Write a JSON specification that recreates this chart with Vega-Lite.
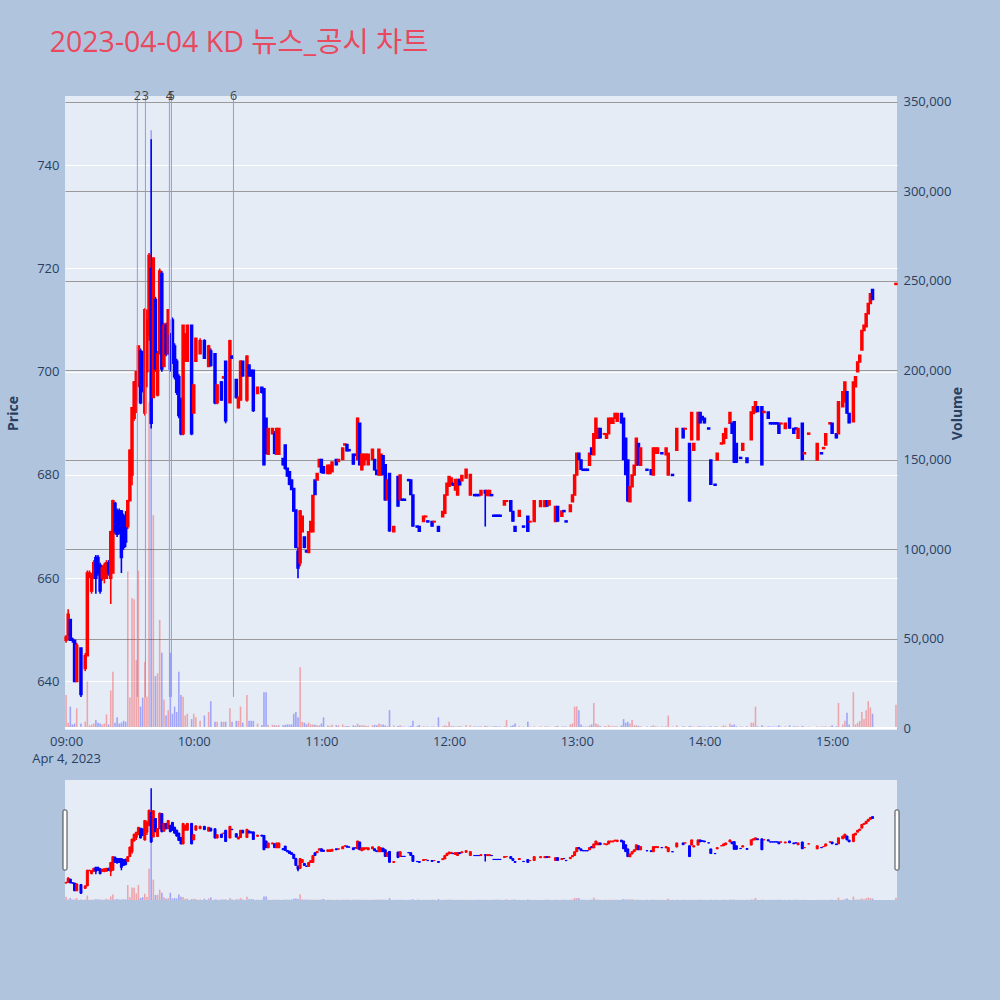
{
"$schema": "https://vega.github.io/schema/vega-lite/v6.json",
"background": "#B0C4DE",
"padding": {"left": 6, "top": 28, "right": 38, "bottom": 100},
"spacing": 15,
"title": {"text": "2023-04-04 KD 뉴스_공시 차트", "anchor": "start", "font": "Open Sans, Noto Sans CJK KR", "fontSize": 28.5, "fontWeight": "normal", "color": "#E8495E", "offset": 33, "dx": 43},
"config": {"view": {"fill": "#E5ECF6", "stroke": null}, "font": "Open Sans", "scale": {"continuousPadding": 0}, "axis": {"labelFont": "Open Sans", "titleFont": "Open Sans", "labelColor": "#2a3f5f", "titleColor": "#2a3f5f", "labelFontSize": 13}},
"datasets": {
"candles": [
{"t":"2023-04-04 09:00","o":648,"h":649,"l":647.5,"c":648.6,"v":18500},
{"t":"2023-04-04 09:01","o":649,"h":654,"l":648,"c":653,"v":3000},
{"t":"2023-04-04 09:02","o":652,"h":652,"l":648,"c":648,"v":12000},
{"t":"2023-04-04 09:03","o":648.2,"h":648.5,"l":647.5,"c":648,"v":2000},
{"t":"2023-04-04 09:04","o":648,"h":648,"l":640,"c":640,"v":2500},
{"t":"2023-04-04 09:05","o":640,"h":647.5,"l":640,"c":647,"v":11000},
{"t":"2023-04-04 09:07","o":646.5,"h":646.5,"l":637,"c":637.5,"v":2600},
{"t":"2023-04-04 09:09","o":642.5,"h":645.5,"l":642,"c":645,"v":3500},
{"t":"2023-04-04 09:10","o":645,"h":661.5,"l":645,"c":661,"v":26000},
{"t":"2023-04-04 09:11","o":660.8,"h":661.5,"l":660,"c":661,"v":1500},
{"t":"2023-04-04 09:12","o":657.5,"h":661,"l":657,"c":660.5,"v":2000},
{"t":"2023-04-04 09:13","o":660,"h":663.5,"l":660,"c":663,"v":2500},
{"t":"2023-04-04 09:14","o":664,"h":664.5,"l":657,"c":660,"v":4500},
{"t":"2023-04-04 09:15","o":664,"h":664.5,"l":660.5,"c":661,"v":3000},
{"t":"2023-04-04 09:16","o":662.5,"h":663,"l":657,"c":657.5,"v":2500},
{"t":"2023-04-04 09:17","o":660,"h":662.5,"l":659.5,"c":662,"v":2000},
{"t":"2023-04-04 09:18","o":660,"h":663,"l":659,"c":662.5,"v":2500},
{"t":"2023-04-04 09:19","o":660,"h":663.5,"l":660,"c":663,"v":7600},
{"t":"2023-04-04 09:20","o":663,"h":663.5,"l":660.5,"c":661,"v":2000},
{"t":"2023-04-04 09:21","o":660,"h":669.2,"l":655,"c":669,"v":21000},
{"t":"2023-04-04 09:22","o":661,"h":675.2,"l":661,"c":675,"v":31500},
{"t":"2023-04-04 09:23","o":674.5,"h":674.8,"l":668.5,"c":669,"v":3000},
{"t":"2023-04-04 09:24","o":673,"h":673.5,"l":668,"c":668.5,"v":6000},
{"t":"2023-04-04 09:25","o":673,"h":673.5,"l":668.5,"c":669,"v":2500},
{"t":"2023-04-04 09:26","o":673,"h":673.2,"l":661,"c":664,"v":3000},
{"t":"2023-04-04 09:27","o":672,"h":672.5,"l":665.5,"c":666,"v":4000},
{"t":"2023-04-04 09:28","o":672,"h":673,"l":666,"c":667,"v":3500},
{"t":"2023-04-04 09:29","o":670,"h":675.2,"l":669.5,"c":675,"v":87500},
{"t":"2023-04-04 09:30","o":675,"h":685,"l":675,"c":684.8,"v":17000},
{"t":"2023-04-04 09:31","o":680,"h":693,"l":678,"c":693,"v":72600},
{"t":"2023-04-04 09:32","o":691,"h":698.2,"l":690.5,"c":698,"v":72000},
{"t":"2023-04-04 09:33","o":694.5,"h":700,"l":692,"c":700,"v":38000},
{"t":"2023-04-04 09:34","o":697.5,"h":705,"l":697,"c":705,"v":88000},
{"t":"2023-04-04 09:35","o":704,"h":704.5,"l":693.7,"c":694,"v":12000},
{"t":"2023-04-04 09:36","o":703,"h":704,"l":696,"c":697,"v":17000},
{"t":"2023-04-04 09:37","o":692,"h":712.3,"l":691.5,"c":712,"v":37000},
{"t":"2023-04-04 09:38","o":700,"h":712,"l":697,"c":710,"v":17500},
{"t":"2023-04-04 09:39","o":707,"h":723,"l":706,"c":722.5,"v":182000},
{"t":"2023-04-04 09:40","o":720,"h":745,"l":689,"c":690,"v":334000},
{"t":"2023-04-04 09:41","o":695,"h":722,"l":695,"c":722,"v":119000},
{"t":"2023-04-04 09:42","o":714,"h":714.5,"l":700,"c":700.5,"v":29000},
{"t":"2023-04-04 09:43","o":695.5,"h":704,"l":695.2,"c":703.5,"v":30600},
{"t":"2023-04-04 09:44","o":703.5,"h":720,"l":703.4,"c":719.5,"v":60500},
{"t":"2023-04-04 09:45","o":719,"h":719.5,"l":700,"c":700.5,"v":42000},
{"t":"2023-04-04 09:46","o":701,"h":709.5,"l":701,"c":709,"v":16000},
{"t":"2023-04-04 09:47","o":709,"h":709.5,"l":703,"c":703.5,"v":7000},
{"t":"2023-04-04 09:48","o":703.5,"h":712,"l":703.4,"c":712,"v":10000},
{"t":"2023-04-04 09:49","o":707,"h":707.5,"l":700,"c":700.5,"v":42000},
{"t":"2023-04-04 09:50","o":710,"h":710.5,"l":701.5,"c":702,"v":8000},
{"t":"2023-04-04 09:51","o":705,"h":705.5,"l":698.5,"c":699,"v":12000},
{"t":"2023-04-04 09:52","o":702,"h":702.5,"l":695.5,"c":696,"v":9000},
{"t":"2023-04-04 09:53","o":699,"h":699.5,"l":691,"c":691.5,"v":31500},
{"t":"2023-04-04 09:54","o":694.5,"h":695,"l":687.7,"c":688,"v":18500},
{"t":"2023-04-04 09:55","o":688,"h":709,"l":687.7,"c":709,"v":17500},
{"t":"2023-04-04 09:56","o":702,"h":707.5,"l":702,"c":707,"v":7000},
{"t":"2023-04-04 09:57","o":702,"h":709,"l":702,"c":709,"v":8000},
{"t":"2023-04-04 09:59","o":709,"h":709,"l":687.7,"c":688,"v":5000},
{"t":"2023-04-04 10:00","o":692,"h":697.5,"l":692,"c":697.4,"v":8000},
{"t":"2023-04-04 10:01","o":702,"h":706.5,"l":702,"c":706.5,"v":6000},
{"t":"2023-04-04 10:03","o":703.5,"h":706.5,"l":703.5,"c":706,"v":4000},
{"t":"2023-04-04 10:05","o":706,"h":706.3,"l":702.5,"c":702.6,"v":7000},
{"t":"2023-04-04 10:07","o":701,"h":705.2,"l":701,"c":705,"v":9000},
{"t":"2023-04-04 10:08","o":704,"h":704.5,"l":701,"c":701.2,"v":15000},
{"t":"2023-04-04 10:10","o":703.5,"h":703.5,"l":693.7,"c":694,"v":3500},
{"t":"2023-04-04 10:11","o":694,"h":697.5,"l":693.7,"c":697.4,"v":3500},
{"t":"2023-04-04 10:13","o":698,"h":698.2,"l":694.4,"c":694.5,"v":3500},
{"t":"2023-04-04 10:14","o":698.8,"h":699,"l":698.7,"c":699,"v":3500},
{"t":"2023-04-04 10:15","o":702,"h":702,"l":690,"c":690.5,"v":3500},
{"t":"2023-04-04 10:17","o":694,"h":706.2,"l":694,"c":706,"v":11000},
{"t":"2023-04-04 10:18","o":703,"h":703.2,"l":702.5,"c":702.6,"v":3500},
{"t":"2023-04-04 10:20","o":698.5,"h":698.5,"l":694.8,"c":695,"v":4000},
{"t":"2023-04-04 10:21","o":693,"h":695.2,"l":692.9,"c":695,"v":4000},
{"t":"2023-04-04 10:22","o":694.5,"h":702.2,"l":694.5,"c":702,"v":12000},
{"t":"2023-04-04 10:23","o":702,"h":702,"l":699,"c":699.2,"v":3000},
{"t":"2023-04-04 10:25","o":694.5,"h":703.2,"l":694.2,"c":703,"v":18500},
{"t":"2023-04-04 10:26","o":701.3,"h":701.3,"l":699,"c":699.2,"v":4000},
{"t":"2023-04-04 10:27","o":700.3,"h":700.3,"l":699,"c":699.2,"v":4000},
{"t":"2023-04-04 10:28","o":700.3,"h":700.3,"l":692.2,"c":692.5,"v":4000},
{"t":"2023-04-04 10:30","o":695.8,"h":697,"l":695.8,"c":697,"v":2500},
{"t":"2023-04-04 10:32","o":697,"h":697,"l":695.8,"c":696,"v":1500},
{"t":"2023-04-04 10:33","o":696.7,"h":696.7,"l":681.9,"c":682,"v":20000},
{"t":"2023-04-04 10:34","o":691,"h":691,"l":684,"c":684.2,"v":20000},
{"t":"2023-04-04 10:35","o":684,"h":689,"l":684,"c":689,"v":1800},
{"t":"2023-04-04 10:37","o":688,"h":689,"l":688,"c":689,"v":1800},
{"t":"2023-04-04 10:38","o":688,"h":688.5,"l":684,"c":684.2,"v":1500},
{"t":"2023-04-04 10:39","o":684,"h":689,"l":684,"c":689,"v":1500},
{"t":"2023-04-04 10:40","o":684,"h":689,"l":684,"c":689,"v":1500},
{"t":"2023-04-04 10:42","o":683.2,"h":683.2,"l":681.9,"c":682,"v":1500},
{"t":"2023-04-04 10:43","o":685.8,"h":685.8,"l":681,"c":681.3,"v":1800},
{"t":"2023-04-04 10:44","o":681.3,"h":681.3,"l":679.7,"c":679.8,"v":2000},
{"t":"2023-04-04 10:45","o":680.6,"h":680.6,"l":678,"c":678.2,"v":2000},
{"t":"2023-04-04 10:46","o":679,"h":679,"l":677.1,"c":677.2,"v":2000},
{"t":"2023-04-04 10:47","o":677.4,"h":677.4,"l":672.9,"c":673,"v":8000},
{"t":"2023-04-04 10:48","o":673.2,"h":673.2,"l":665.8,"c":666,"v":9000},
{"t":"2023-04-04 10:49","o":665.2,"h":666,"l":660,"c":662,"v":6000},
{"t":"2023-04-04 10:50","o":663,"h":673.2,"l":662.3,"c":673,"v":34000},
{"t":"2023-04-04 10:51","o":669,"h":672,"l":669,"c":672,"v":3500},
{"t":"2023-04-04 10:52","o":668,"h":668,"l":665.8,"c":666,"v":3000},
{"t":"2023-04-04 10:53","o":665.3,"h":665.5,"l":665,"c":665.1,"v":2000},
{"t":"2023-04-04 10:54","o":665,"h":669,"l":664.9,"c":669,"v":3000},
{"t":"2023-04-04 10:55","o":669,"h":671,"l":669,"c":671,"v":2000},
{"t":"2023-04-04 10:56","o":669,"h":676.1,"l":669,"c":676,"v":2000},
{"t":"2023-04-04 10:57","o":679,"h":679,"l":676.1,"c":676.2,"v":1800},
{"t":"2023-04-04 10:58","o":679,"h":680.3,"l":679,"c":680.3,"v":1500},
{"t":"2023-04-04 10:59","o":681.6,"h":683,"l":681.6,"c":683,"v":1500},
{"t":"2023-04-04 11:00","o":683,"h":683,"l":680.3,"c":680.5,"v":2500},
{"t":"2023-04-04 11:01","o":681.6,"h":681.6,"l":680.3,"c":680.4,"v":6000},
{"t":"2023-04-04 11:03","o":680.3,"h":681.9,"l":680.3,"c":681.9,"v":1500},
{"t":"2023-04-04 11:04","o":680.3,"h":681.9,"l":680.3,"c":681.9,"v":1200},
{"t":"2023-04-04 11:05","o":680.6,"h":682.5,"l":680.6,"c":682.5,"v":1800},
{"t":"2023-04-04 11:07","o":683,"h":683,"l":681.9,"c":682,"v":1500},
{"t":"2023-04-04 11:08","o":682.6,"h":683,"l":682.6,"c":683,"v":1500},
{"t":"2023-04-04 11:10","o":683,"h":685.2,"l":683,"c":685.2,"v":2000},
{"t":"2023-04-04 11:11","o":685.8,"h":686,"l":685.8,"c":686,"v":1000},
{"t":"2023-04-04 11:12","o":685.9,"h":685.9,"l":684.6,"c":684.7,"v":1200},
{"t":"2023-04-04 11:13","o":684.9,"h":684.9,"l":684.7,"c":684.7,"v":1000},
{"t":"2023-04-04 11:15","o":684,"h":684,"l":682,"c":682.1,"v":1500},
{"t":"2023-04-04 11:16","o":684,"h":684,"l":683.8,"c":683.8,"v":1200},
{"t":"2023-04-04 11:17","o":683,"h":691.1,"l":682.9,"c":691,"v":2500},
{"t":"2023-04-04 11:18","o":690,"h":690,"l":681.9,"c":682,"v":1500},
{"t":"2023-04-04 11:19","o":681,"h":684,"l":680.9,"c":684,"v":1500},
{"t":"2023-04-04 11:20","o":682,"h":684,"l":681.9,"c":684,"v":1500},
{"t":"2023-04-04 11:21","o":683,"h":684,"l":683,"c":684,"v":1200},
{"t":"2023-04-04 11:22","o":682,"h":684,"l":682,"c":684,"v":1200},
{"t":"2023-04-04 11:24","o":683,"h":685,"l":683,"c":685,"v":1500},
{"t":"2023-04-04 11:25","o":683,"h":683,"l":680.9,"c":681,"v":1800},
{"t":"2023-04-04 11:26","o":680.9,"h":680.9,"l":680,"c":680.1,"v":1500},
{"t":"2023-04-04 11:27","o":680,"h":685,"l":680,"c":685,"v":2500},
{"t":"2023-04-04 11:28","o":680,"h":684,"l":680,"c":684,"v":2000},
{"t":"2023-04-04 11:29","o":683.7,"h":683.7,"l":680,"c":680.1,"v":2000},
{"t":"2023-04-04 11:30","o":682,"h":682,"l":675,"c":675.2,"v":1500},
{"t":"2023-04-04 11:31","o":675.2,"h":679,"l":675.2,"c":679,"v":1000},
{"t":"2023-04-04 11:32","o":680.3,"h":680.3,"l":669,"c":669.2,"v":10000},
{"t":"2023-04-04 11:34","o":669,"h":670,"l":669,"c":670,"v":1500},
{"t":"2023-04-04 11:36","o":679.7,"h":679.7,"l":673.9,"c":674,"v":1200},
{"t":"2023-04-04 11:37","o":675.2,"h":680,"l":675.2,"c":680,"v":1500},
{"t":"2023-04-04 11:38","o":675.3,"h":675.3,"l":675.1,"c":675.1,"v":800},
{"t":"2023-04-04 11:39","o":675.3,"h":675.3,"l":675.1,"c":675.1,"v":800},
{"t":"2023-04-04 11:41","o":679.1,"h":679.1,"l":678.9,"c":678.9,"v":800},
{"t":"2023-04-04 11:42","o":679,"h":679,"l":676.1,"c":676.2,"v":1200},
{"t":"2023-04-04 11:43","o":676.1,"h":676.1,"l":670,"c":670.1,"v":4000},
{"t":"2023-04-04 11:45","o":670.1,"h":670.1,"l":669.9,"c":669.9,"v":1000},
{"t":"2023-04-04 11:46","o":670,"h":670,"l":669,"c":669.1,"v":1700},
{"t":"2023-04-04 11:48","o":671,"h":672,"l":671,"c":672,"v":1000},
{"t":"2023-04-04 11:49","o":671.9,"h":672.1,"l":671.9,"c":672,"v":800},
{"t":"2023-04-04 11:50","o":671.1,"h":671.1,"l":670.9,"c":670.9,"v":800},
{"t":"2023-04-04 11:52","o":671,"h":671,"l":670,"c":670.1,"v":800},
{"t":"2023-04-04 11:53","o":670.9,"h":671.1,"l":670.9,"c":671,"v":800},
{"t":"2023-04-04 11:55","o":670,"h":670,"l":669,"c":669.1,"v":6000},
{"t":"2023-04-04 11:57","o":671.9,"h":672.9,"l":671.9,"c":672.9,"v":1000},
{"t":"2023-04-04 11:58","o":672.6,"h":676.1,"l":672.6,"c":676.1,"v":1500},
{"t":"2023-04-04 11:59","o":676.1,"h":678.4,"l":676.1,"c":678.4,"v":1200},
{"t":"2023-04-04 12:00","o":677.8,"h":679.7,"l":677.8,"c":679.7,"v":3500},
{"t":"2023-04-04 12:01","o":678.1,"h":679.4,"l":678.1,"c":679.4,"v":1200},
{"t":"2023-04-04 12:02","o":678.4,"h":678.4,"l":677.9,"c":678,"v":1000},
{"t":"2023-04-04 12:03","o":677.1,"h":679.1,"l":677.1,"c":679.1,"v":800},
{"t":"2023-04-04 12:04","o":676.1,"h":679.1,"l":676.1,"c":679.1,"v":1000},
{"t":"2023-04-04 12:05","o":679.1,"h":679.1,"l":678,"c":678.1,"v":1000},
{"t":"2023-04-04 12:06","o":678.9,"h":679.9,"l":678.9,"c":679.9,"v":800},
{"t":"2023-04-04 12:08","o":679.4,"h":681.1,"l":679.4,"c":681.1,"v":1500},
{"t":"2023-04-04 12:10","o":676.1,"h":680.1,"l":676.1,"c":680.1,"v":1500},
{"t":"2023-04-04 12:12","o":676.2,"h":676.2,"l":676,"c":676,"v":1000},
{"t":"2023-04-04 12:13","o":676.2,"h":676.2,"l":676,"c":676,"v":800},
{"t":"2023-04-04 12:14","o":676.2,"h":676.2,"l":676,"c":676,"v":800},
{"t":"2023-04-04 12:15","o":676.1,"h":677,"l":676.1,"c":677,"v":1000},
{"t":"2023-04-04 12:17","o":677,"h":677,"l":670,"c":676.5,"v":1200},
{"t":"2023-04-04 12:18","o":676,"h":677,"l":676,"c":677,"v":1000},
{"t":"2023-04-04 12:19","o":676,"h":677,"l":676,"c":677,"v":800},
{"t":"2023-04-04 12:20","o":676.2,"h":676.2,"l":676,"c":676,"v":800},
{"t":"2023-04-04 12:21","o":672.2,"h":672.2,"l":672,"c":672,"v":1000},
{"t":"2023-04-04 12:22","o":672.2,"h":672.2,"l":672,"c":672,"v":1000},
{"t":"2023-04-04 12:23","o":672.2,"h":672.2,"l":672,"c":672,"v":800},
{"t":"2023-04-04 12:24","o":672.2,"h":672.2,"l":672,"c":672,"v":800},
{"t":"2023-04-04 12:26","o":674.2,"h":675,"l":674.2,"c":675,"v":1000},
{"t":"2023-04-04 12:27","o":674.9,"h":675.1,"l":674.9,"c":675,"v":4500},
{"t":"2023-04-04 12:29","o":675,"h":675,"l":672.9,"c":673,"v":1200},
{"t":"2023-04-04 12:30","o":672.9,"h":672.9,"l":671,"c":671.1,"v":1500},
{"t":"2023-04-04 12:31","o":670,"h":670,"l":669,"c":669.1,"v":2500},
{"t":"2023-04-04 12:33","o":672,"h":673.1,"l":672,"c":673.1,"v":1000},
{"t":"2023-04-04 12:35","o":670.1,"h":670.1,"l":669.9,"c":669.9,"v":800},
{"t":"2023-04-04 12:37","o":672,"h":672,"l":669,"c":669.1,"v":3500},
{"t":"2023-04-04 12:38","o":670.9,"h":671.1,"l":670.9,"c":671,"v":800},
{"t":"2023-04-04 12:40","o":671,"h":675,"l":671,"c":675,"v":1000},
{"t":"2023-04-04 12:43","o":673.9,"h":675,"l":673.9,"c":675,"v":1000},
{"t":"2023-04-04 12:45","o":673.9,"h":675,"l":673.9,"c":675,"v":800},
{"t":"2023-04-04 12:46","o":675,"h":675,"l":673.9,"c":674,"v":800},
{"t":"2023-04-04 12:47","o":674.2,"h":675,"l":674.2,"c":675,"v":800},
{"t":"2023-04-04 12:50","o":671,"h":673.9,"l":671,"c":673.9,"v":1000},
{"t":"2023-04-04 12:51","o":673.9,"h":673.9,"l":671,"c":671.1,"v":1200},
{"t":"2023-04-04 12:53","o":672,"h":673,"l":672,"c":673,"v":800},
{"t":"2023-04-04 12:54","o":673.1,"h":673.1,"l":672.9,"c":672.9,"v":800},
{"t":"2023-04-04 12:55","o":671.1,"h":671.1,"l":670.9,"c":670.9,"v":800},
{"t":"2023-04-04 12:57","o":672.9,"h":674.2,"l":672.9,"c":674.2,"v":2000},
{"t":"2023-04-04 12:58","o":674.8,"h":676.1,"l":674.8,"c":676.1,"v":2500},
{"t":"2023-04-04 12:59","o":676.1,"h":680,"l":676.1,"c":680,"v":12000},
{"t":"2023-04-04 13:00","o":680,"h":684.2,"l":680,"c":684.2,"v":12000},
{"t":"2023-04-04 13:01","o":684.2,"h":684.2,"l":682.9,"c":683,"v":10000},
{"t":"2023-04-04 13:02","o":682.9,"h":682.9,"l":681,"c":681.1,"v":2000},
{"t":"2023-04-04 13:03","o":681.1,"h":681.1,"l":680.9,"c":680.9,"v":800},
{"t":"2023-04-04 13:04","o":681.1,"h":681.1,"l":680.9,"c":680.9,"v":800},
{"t":"2023-04-04 13:05","o":681.1,"h":681.1,"l":680.9,"c":680.9,"v":800},
{"t":"2023-04-04 13:06","o":681.9,"h":684.2,"l":681.9,"c":684.2,"v":1500},
{"t":"2023-04-04 13:07","o":685.2,"h":685.2,"l":683.9,"c":684,"v":2000},
{"t":"2023-04-04 13:08","o":683.9,"h":688,"l":683.9,"c":688,"v":14000},
{"t":"2023-04-04 13:09","o":687.1,"h":691,"l":687.1,"c":691,"v":2500},
{"t":"2023-04-04 13:10","o":687.1,"h":689,"l":687.1,"c":689,"v":2000},
{"t":"2023-04-04 13:11","o":689,"h":689,"l":687.1,"c":687.2,"v":1200},
{"t":"2023-04-04 13:13","o":687.9,"h":688.1,"l":687.9,"c":688,"v":1000},
{"t":"2023-04-04 13:14","o":687.1,"h":688,"l":687.1,"c":688,"v":1000},
{"t":"2023-04-04 13:15","o":688,"h":691,"l":688,"c":691,"v":1500},
{"t":"2023-04-04 13:16","o":690,"h":691,"l":690,"c":691,"v":1000},
{"t":"2023-04-04 13:17","o":690,"h":691,"l":690,"c":691,"v":1000},
{"t":"2023-04-04 13:18","o":691,"h":691.9,"l":691,"c":691.9,"v":1000},
{"t":"2023-04-04 13:19","o":690.4,"h":691.9,"l":690.4,"c":691.9,"v":1000},
{"t":"2023-04-04 13:21","o":691.9,"h":691.9,"l":690,"c":690.1,"v":1500},
{"t":"2023-04-04 13:22","o":691,"h":691,"l":682.9,"c":683,"v":5000},
{"t":"2023-04-04 13:23","o":687.1,"h":687.1,"l":680,"c":680.1,"v":3000},
{"t":"2023-04-04 13:24","o":682.9,"h":682.9,"l":674.8,"c":675,"v":3500},
{"t":"2023-04-04 13:25","o":674.8,"h":677.7,"l":674.8,"c":677.7,"v":2500},
{"t":"2023-04-04 13:26","o":677.7,"h":680,"l":677.7,"c":680,"v":4500},
{"t":"2023-04-04 13:27","o":680,"h":681.9,"l":680,"c":681.9,"v":1500},
{"t":"2023-04-04 13:28","o":681.9,"h":687.1,"l":681.9,"c":687.1,"v":1500},
{"t":"2023-04-04 13:29","o":686.1,"h":686.1,"l":681.9,"c":682,"v":1200},
{"t":"2023-04-04 13:30","o":681.9,"h":685.2,"l":681.9,"c":685.2,"v":1000},
{"t":"2023-04-04 13:33","o":681.1,"h":681.1,"l":680.9,"c":680.9,"v":800},
{"t":"2023-04-04 13:35","o":681,"h":681,"l":680,"c":680.1,"v":1000},
{"t":"2023-04-04 13:36","o":680,"h":685.2,"l":680,"c":685.2,"v":1500},
{"t":"2023-04-04 13:37","o":684.2,"h":685.2,"l":684.2,"c":685.2,"v":1000},
{"t":"2023-04-04 13:38","o":684.2,"h":685.2,"l":684.2,"c":685.2,"v":800},
{"t":"2023-04-04 13:40","o":684.3,"h":684.3,"l":684.1,"c":684.1,"v":800},
{"t":"2023-04-04 13:42","o":683.9,"h":685.2,"l":683.9,"c":685.2,"v":1000},
{"t":"2023-04-04 13:43","o":680,"h":684.2,"l":680,"c":684.2,"v":7000},
{"t":"2023-04-04 13:45","o":680.1,"h":680.1,"l":679.9,"c":679.9,"v":800},
{"t":"2023-04-04 13:47","o":684.8,"h":689,"l":684.8,"c":689,"v":1500},
{"t":"2023-04-04 13:50","o":689,"h":689,"l":687.1,"c":687.2,"v":1000},
{"t":"2023-04-04 13:51","o":688.9,"h":689.1,"l":688.9,"c":689,"v":800},
{"t":"2023-04-04 13:53","o":686.1,"h":686.1,"l":674.8,"c":675,"v":1200},
{"t":"2023-04-04 13:54","o":686.8,"h":692.1,"l":686.8,"c":692.1,"v":1000},
{"t":"2023-04-04 13:55","o":684.8,"h":686.1,"l":684.8,"c":686.1,"v":800},
{"t":"2023-04-04 13:57","o":686.8,"h":692.1,"l":686.8,"c":692.1,"v":1000},
{"t":"2023-04-04 13:58","o":692.1,"h":692.1,"l":690,"c":690.1,"v":1000},
{"t":"2023-04-04 13:59","o":691.3,"h":691.3,"l":690.7,"c":690.7,"v":800},
{"t":"2023-04-04 14:00","o":691,"h":691,"l":690,"c":690.1,"v":800},
{"t":"2023-04-04 14:02","o":689.1,"h":689.1,"l":688.9,"c":688.9,"v":800},
{"t":"2023-04-04 14:03","o":682.9,"h":682.9,"l":678.1,"c":678.2,"v":1000},
{"t":"2023-04-04 14:05","o":678.2,"h":678.2,"l":678,"c":678,"v":800},
{"t":"2023-04-04 14:06","o":682.9,"h":684.2,"l":682.9,"c":684.2,"v":1000},
{"t":"2023-04-04 14:08","o":686,"h":686.2,"l":686,"c":686.2,"v":800},
{"t":"2023-04-04 14:09","o":686.1,"h":688,"l":686.1,"c":688,"v":1500},
{"t":"2023-04-04 14:10","o":687.1,"h":689,"l":687.1,"c":689,"v":1200},
{"t":"2023-04-04 14:12","o":690,"h":692.1,"l":690,"c":692.1,"v":2500},
{"t":"2023-04-04 14:13","o":690,"h":690,"l":688,"c":688.1,"v":1500},
{"t":"2023-04-04 14:14","o":690.3,"h":690.3,"l":682.3,"c":682.5,"v":2000},
{"t":"2023-04-04 14:15","o":686.1,"h":686.1,"l":682.3,"c":682.5,"v":1000},
{"t":"2023-04-04 14:17","o":683.4,"h":683.4,"l":683.2,"c":683.2,"v":800},
{"t":"2023-04-04 14:18","o":684.8,"h":686.1,"l":684.8,"c":686.1,"v":800},
{"t":"2023-04-04 14:20","o":683.3,"h":683.3,"l":682.3,"c":682.4,"v":1000},
{"t":"2023-04-04 14:22","o":686.8,"h":692.2,"l":686.8,"c":692.2,"v":3000},
{"t":"2023-04-04 14:23","o":691.9,"h":693.2,"l":691.9,"c":693.2,"v":3000},
{"t":"2023-04-04 14:24","o":692.2,"h":694.2,"l":692.2,"c":694.2,"v":12000},
{"t":"2023-04-04 14:25","o":693.2,"h":693.2,"l":692.2,"c":692.3,"v":1000},
{"t":"2023-04-04 14:27","o":693.2,"h":693.2,"l":681.9,"c":682,"v":1500},
{"t":"2023-04-04 14:28","o":692.1,"h":692.3,"l":692.1,"c":692.3,"v":800},
{"t":"2023-04-04 14:30","o":692.2,"h":692.2,"l":690.9,"c":691,"v":1000},
{"t":"2023-04-04 14:31","o":690.1,"h":690.1,"l":689.9,"c":689.9,"v":800},
{"t":"2023-04-04 14:32","o":690.1,"h":690.1,"l":689.9,"c":689.9,"v":800},
{"t":"2023-04-04 14:33","o":690.1,"h":690.1,"l":689.9,"c":689.9,"v":800},
{"t":"2023-04-04 14:34","o":690.1,"h":690.1,"l":689.9,"c":689.9,"v":800},
{"t":"2023-04-04 14:35","o":690,"h":690,"l":688,"c":688.1,"v":1500},
{"t":"2023-04-04 14:36","o":689.9,"h":690.1,"l":689.9,"c":690,"v":800},
{"t":"2023-04-04 14:38","o":689,"h":690,"l":689,"c":690,"v":1000},
{"t":"2023-04-04 14:40","o":691,"h":691,"l":689,"c":689.1,"v":1500},
{"t":"2023-04-04 14:42","o":689,"h":689,"l":688,"c":688.1,"v":1000},
{"t":"2023-04-04 14:43","o":689.1,"h":689.1,"l":688.9,"c":688.9,"v":800},
{"t":"2023-04-04 14:44","o":687.1,"h":689,"l":687.1,"c":689,"v":1000},
{"t":"2023-04-04 14:46","o":690,"h":690,"l":682.9,"c":683,"v":1200},
{"t":"2023-04-04 14:47","o":684.1,"h":684.3,"l":684.1,"c":684.3,"v":800},
{"t":"2023-04-04 14:49","o":687.9,"h":688.1,"l":687.9,"c":688.1,"v":800},
{"t":"2023-04-04 14:53","o":682.9,"h":686.1,"l":682.9,"c":686.1,"v":1000},
{"t":"2023-04-04 14:55","o":684.3,"h":684.3,"l":684.1,"c":684.1,"v":800},
{"t":"2023-04-04 14:56","o":685.1,"h":685.3,"l":685.1,"c":685.3,"v":800},
{"t":"2023-04-04 14:57","o":685.8,"h":688,"l":685.8,"c":688,"v":1000},
{"t":"2023-04-04 14:59","o":689.9,"h":690.1,"l":689.9,"c":690.1,"v":800},
{"t":"2023-04-04 15:00","o":690,"h":690,"l":688,"c":688.1,"v":1500},
{"t":"2023-04-04 15:02","o":688,"h":688,"l":687.1,"c":687.2,"v":1000},
{"t":"2023-04-04 15:03","o":688,"h":694.2,"l":688,"c":694.2,"v":14000},
{"t":"2023-04-04 15:05","o":693.2,"h":696.1,"l":693.2,"c":696.1,"v":2000},
{"t":"2023-04-04 15:06","o":694.2,"h":698,"l":694.2,"c":698,"v":4000},
{"t":"2023-04-04 15:07","o":696.1,"h":696.1,"l":691.9,"c":692,"v":8600},
{"t":"2023-04-04 15:08","o":691.9,"h":691.9,"l":690,"c":690.1,"v":2000},
{"t":"2023-04-04 15:10","o":690.3,"h":698,"l":690.3,"c":698,"v":20000},
{"t":"2023-04-04 15:11","o":697.1,"h":699,"l":697.1,"c":699,"v":2000},
{"t":"2023-04-04 15:12","o":700,"h":701.9,"l":700,"c":701.9,"v":3000},
{"t":"2023-04-04 15:13","o":701.9,"h":703.2,"l":701.9,"c":703.2,"v":4000},
{"t":"2023-04-04 15:14","o":704.2,"h":708,"l":704.2,"c":708,"v":9000},
{"t":"2023-04-04 15:15","o":708,"h":709,"l":708,"c":709,"v":5000},
{"t":"2023-04-04 15:16","o":708.7,"h":711.2,"l":708.7,"c":711.2,"v":10000},
{"t":"2023-04-04 15:17","o":711.2,"h":713.2,"l":711.2,"c":713.2,"v":15000},
{"t":"2023-04-04 15:18","o":713.2,"h":715.1,"l":713.2,"c":715.1,"v":11500},
{"t":"2023-04-04 15:19","o":715.9,"h":715.9,"l":713.9,"c":714,"v":8000},
{"t":"2023-04-04 15:30","o":716.9,"h":717.1,"l":716.9,"c":717.1,"v":13000}
],
"news": [
{"t":"2023-04-04 09:33:30","n":"2"},
{"t":"2023-04-04 09:37:18","n":"3"},
{"t":"2023-04-04 09:48:34","n":"4"},
{"t":"2023-04-04 09:49:30","n":"5"},
{"t":"2023-04-04 10:18:40","n":"6"}
],
"sliderEnds": [
{"t":"2023-04-04 08:59:30"},
{"t":"2023-04-04 15:30:30"}
]
},
"vconcat": [
{
"width": 832, "height": 634,
"layer": [
{
"data": {"name": "candles"},
"encoding": {"x": {"field": "t", "type": "temporal", "title": null,
  "scale": {"domain": [{"year":2023,"month":4,"date":4,"hours":8,"minutes":59,"seconds":30},{"year":2023,"month":4,"date":4,"hours":15,"minutes":30,"seconds":30}], "nice": false, "padding": 0},
  "axis": {"orient": "bottom", "grid": false, "ticks": false, "domain": false, "labelPadding": 5, "labelFlush": false, "labelOverlap": false, "format": "%H:%M",
   "values": [{"year":2023,"month":4,"date":4,"hours":9},{"year":2023,"month":4,"date":4,"hours":10},{"year":2023,"month":4,"date":4,"hours":11},{"year":2023,"month":4,"date":4,"hours":12},{"year":2023,"month":4,"date":4,"hours":13},{"year":2023,"month":4,"date":4,"hours":14},{"year":2023,"month":4,"date":4,"hours":15}]}}},
"layer": [
{"mark": {"type": "rule", "strokeWidth": 1.6},
 "encoding": {
  "y": {"field": "l", "type": "quantitative", "scale": {"domain": [630.6, 753.4], "nice": false, "zero": false},
   "axis": {"title": "Price", "orient": "left", "values": [640,660,680,700,720,740], "grid": true, "gridColor": "#FFFFFF", "gridWidth": 1, "ticks": false, "domain": false, "labelPadding": 6, "titleFontSize": 14, "titleFontWeight": "bold", "titlePadding": 16}},
  "y2": {"field": "h"},
  "color": {"condition": {"test": "datum.c >= datum.o", "value": "#FF0000"}, "value": "#0000FF"}}},
{"mark": {"type": "bar", "width": 2, "strokeWidth": 1.5},
 "encoding": {
  "y": {"field": "o", "type": "quantitative"},
  "y2": {"field": "c"},
  "color": {"condition": {"test": "datum.c >= datum.o", "value": "#FF0000"}, "value": "#0000FF"},
  "stroke": {"condition": {"test": "datum.c >= datum.o", "value": "#FF0000"}, "value": "#0000FF"}}}
]
},
{
"layer": [
{"data": {"name": "candles"},
 "mark": {"type": "bar", "width": 1.6, "opacity": 0.3},
 "encoding": {
  "x": {"field": "t", "type": "temporal", "axis": null,
   "scale": {"domain": [{"year":2023,"month":4,"date":4,"hours":8,"minutes":59,"seconds":30},{"year":2023,"month":4,"date":4,"hours":15,"minutes":30,"seconds":30}], "nice": false, "padding": 0}},
  "y": {"field": "v", "type": "quantitative", "scale": {"domain": [-1100, 353200], "nice": false, "zero": false},
   "axis": {"title": "Volume", "orient": "right", "values": [0,50000,100000,150000,200000,250000,300000,350000], "format": ",d", "grid": true, "gridColor": "#999999",
    "ticks": false, "domain": false, "labelPadding": 6, "titleFontSize": 14, "titleFontWeight": "bold", "titlePadding": 14, "titleAngle": -90}},
  "color": {"condition": {"test": "datum.c >= datum.o", "value": "#FF0000"}, "value": "#0000FF"}}},
{"data": {"values": [{"z": 0}]},
 "mark": {"type": "rule", "color": "#FFFFFF", "strokeWidth": 2},
 "encoding": {"y": {"field": "z", "type": "quantitative"}}}
]
},
{
"data": {"name": "news"},
"encoding": {"x": {"field": "t", "type": "temporal", "title": null,
  "scale": {"domain": [{"year":2023,"month":4,"date":4,"hours":8,"minutes":59,"seconds":30},{"year":2023,"month":4,"date":4,"hours":15,"minutes":30,"seconds":30}], "nice": false, "padding": 0},
  "axis": {"orient": "bottom", "offset": 20, "grid": false, "ticks": false, "domain": false, "labelPadding": 2, "labelFlush": false, "values": [{"year":2023,"month":4,"date":4,"hours":9}], "labelExpr": "'Apr 4, 2023'"}}},
"layer": [
{"mark": {"type": "rule", "color": "#8C9BE8", "strokeWidth": 1},
 "encoding": {"y": {"datum": 637, "type": "quantitative", "scale": {"domain": [630.6, 753.4], "nice": false, "zero": false}, "axis": null}, "y2": {"datum": 753.4}}},
{"mark": {"type": "text", "baseline": "middle", "align": "center", "fontSize": 12.5, "font": "Open Sans", "color": "#444444"},
 "encoding": {"y": {"datum": 753.4, "type": "quantitative"}, "text": {"field": "n"}}}
]
}
],
"resolve": {"scale": {"y": "independent"}, "axis": {"y": "independent", "x": "independent"}}
},
{
"width": 832, "height": 120,
"layer": [
{
"data": {"name": "candles"},
"encoding": {"x": {"field": "t", "type": "temporal", "axis": null,
  "scale": {"domain": [{"year":2023,"month":4,"date":4,"hours":8,"minutes":59,"seconds":30},{"year":2023,"month":4,"date":4,"hours":15,"minutes":30,"seconds":30}], "nice": false, "padding": 0}}},
"layer": [
{"mark": {"type": "rule", "strokeWidth": 1.5},
 "encoding": {
  "y": {"field": "l", "type": "quantitative", "scale": {"domain": [630.6, 753.4], "nice": false, "zero": false}, "axis": null},
  "y2": {"field": "h"},
  "color": {"condition": {"test": "datum.c >= datum.o", "value": "#FF0000"}, "value": "#0000FF"}}},
{"mark": {"type": "bar", "width": 2, "strokeWidth": 1},
 "encoding": {
  "y": {"field": "o", "type": "quantitative"},
  "y2": {"field": "c"},
  "color": {"condition": {"test": "datum.c >= datum.o", "value": "#FF0000"}, "value": "#0000FF"},
  "stroke": {"condition": {"test": "datum.c >= datum.o", "value": "#FF0000"}, "value": "#0000FF"}}}
]
},
{
"data": {"name": "candles"},
"mark": {"type": "bar", "width": 1.6, "opacity": 0.3},
"encoding": {
 "x": {"field": "t", "type": "temporal", "axis": null,
  "scale": {"domain": [{"year":2023,"month":4,"date":4,"hours":8,"minutes":59,"seconds":30},{"year":2023,"month":4,"date":4,"hours":15,"minutes":30,"seconds":30}], "nice": false, "padding": 0}},
 "y": {"field": "v", "type": "quantitative", "scale": {"domain": [0, 700000], "nice": false}, "axis": null},
 "color": {"condition": {"test": "datum.c >= datum.o", "value": "#FF0000"}, "value": "#0000FF"}}
},
{
"data": {"name": "sliderEnds"},
"mark": {"type": "bar", "width": 4, "fill": "#FFFFFF", "stroke": "#444444", "strokeWidth": 1, "cornerRadius": 1},
"encoding": {
 "x": {"field": "t", "type": "temporal", "axis": null,
  "scale": {"domain": [{"year":2023,"month":4,"date":4,"hours":8,"minutes":59,"seconds":30},{"year":2023,"month":4,"date":4,"hours":15,"minutes":30,"seconds":30}], "nice": false, "padding": 0}},
 "y": {"datum": 0.25, "type": "quantitative", "scale": {"domain": [0, 1], "nice": false}, "axis": null},
 "y2": {"datum": 0.75}}
}
],
"resolve": {"scale": {"y": "independent"}}
}
]
}
